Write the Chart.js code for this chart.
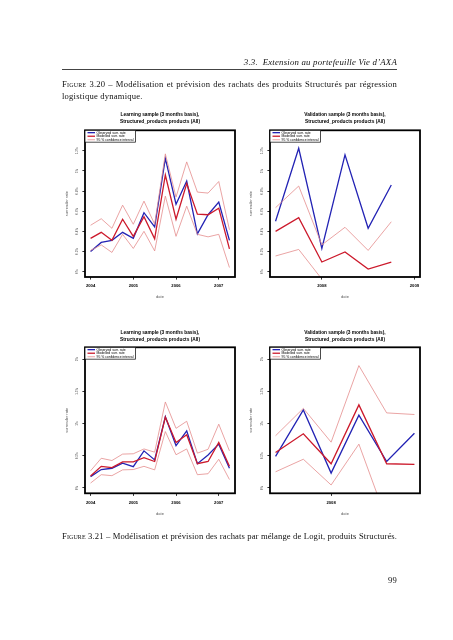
<!DOCTYPE html>
<html><head><meta charset="utf-8">
<script src="https://cdn.jsdelivr.net/npm/chart.js@4.4.1/dist/chart.umd.min.js"></script>
<style>
html,body{margin:0;padding:0;background:#fff;}
#page{position:relative;width:453px;height:640px;overflow:hidden;background:#fff;}
.serif{font-family:'Liberation Serif','DejaVu Serif',serif;color:#111;filter:grayscale(1);-webkit-font-smoothing:antialiased;}
.abs{position:absolute;white-space:nowrap;}
canvas{position:absolute;}
.sc{font-variant:small-caps;}
.just{text-align:justify;text-align-last:justify;}
.cap{font-size:8.6px;line-height:10px;letter-spacing:0.2px;}
</style></head><body>
<div id="page">
  <div class="abs serif" style="right:56px;top:57px;font-style:italic;font-size:8.8px;line-height:10px;letter-spacing:0.2px;">3.3.&nbsp; Extension au portefeuille Vie d’AXA</div>
  <div class="abs" style="left:62px;top:69px;width:335px;height:1px;background:#444;"></div>
  <div class="abs serif just cap" style="left:62px;top:79px;width:335px;"><span class="sc">Figure</span> 3.20 – Modélisation et prévision des rachats des produits Structurés par régression</div>
  <div class="abs serif cap" style="left:62px;top:90.5px;">logistique dynamique.</div>
  <canvas id="c1"></canvas>
  <canvas id="c2"></canvas>
  <canvas id="c3"></canvas>
  <canvas id="c4"></canvas>
  <div class="abs serif just cap" style="left:62px;top:530.5px;width:335px;letter-spacing:0.1px;"><span class="sc">Figure</span> 3.21 – Modélisation et prévision des rachats par mélange de Logit, produits Structurés.</div>
  <div class="abs serif cap" style="right:56px;top:574.5px;">99</div>
</div>
<script>
// ---------- categories (quarters, decimal years) ----------
const learnDates = [2004, 2004.25, 2004.5, 2004.75, 2005, 2005.25, 2005.5, 2005.75, 2006, 2006.25, 2006.5, 2006.75, 2007, 2007.25];
const validDates = [2007.5, 2007.75, 2008, 2008.25, 2008.5, 2008.75];

// ---------- Figure 3.20 : dynamic logistic regression (values in %) ----------
const f320LearnObserved = [0.20, 0.29, 0.31, 0.39, 0.33, 0.585, 0.445, 1.125, 0.67, 0.90, 0.375, 0.565, 0.69, 0.31];
const f320LearnModelled = [0.33, 0.39, 0.31, 0.52, 0.35, 0.545, 0.325, 0.96, 0.52, 0.875, 0.57, 0.565, 0.63, 0.225];
const f320LearnUpper    = [0.46, 0.525, 0.43, 0.66, 0.47, 0.70, 0.47, 1.17, 0.74, 1.09, 0.79, 0.78, 0.895, 0.415];
const f320LearnLower    = [0.21, 0.265, 0.19, 0.37, 0.23, 0.40, 0.205, 0.75, 0.35, 0.65, 0.37, 0.345, 0.37, 0.04];

const f320ValidObserved = [0.50, 1.225, 0.23, 1.16, 0.43, 0.86];
const f320ValidModelled = [0.40, 0.535, 0.095, 0.195, 0.025, 0.095];
const f320ValidUpper    = [0.635, 0.85, 0.265, 0.44, 0.21, 0.495];
const f320ValidLower    = [0.155, 0.22, -0.075, -0.06, -0.16, -0.30];

// ---------- Figure 3.21 : mixture of logits (values in %) ----------
const f321LearnObserved = [0.175, 0.285, 0.305, 0.385, 0.33, 0.575, 0.435, 1.105, 0.655, 0.885, 0.375, 0.51, 0.68, 0.305];
const f321LearnModelled = [0.185, 0.335, 0.315, 0.405, 0.405, 0.47, 0.41, 1.10, 0.705, 0.825, 0.375, 0.41, 0.705, 0.335];
const f321LearnUpper    = [0.265, 0.46, 0.425, 0.525, 0.53, 0.605, 0.555, 1.335, 0.925, 1.035, 0.54, 0.60, 0.99, 0.575];
const f321LearnLower    = [0.075, 0.205, 0.19, 0.28, 0.285, 0.335, 0.28, 0.875, 0.515, 0.605, 0.205, 0.22, 0.445, 0.13];

const f321ValidObserved = [0.49, 1.21, 0.23, 1.13, 0.41, 0.85];
const f321ValidModelled = [0.55, 0.84, 0.375, 1.29, 0.375, 0.365];
const f321ValidUpper    = [0.81, 1.235, 0.71, 1.90, 1.165, 1.14];
const f321ValidLower    = [0.25, 0.445, 0.045, 0.68, -0.50, -0.50];

// ---------- ticks & labels ----------
const topYTicks = [0, 0.2, 0.4, 0.6, 0.8, 1, 1.2];
const topYTickLabels = ['0%', '0.2%', '0.4%', '0.6%', '0.8%', '1%', '1.2%'];
const bottomYTicks = [0, 0.5, 1, 1.5, 2];
const bottomYTickLabels = ['0%', '0.5%', '1%', '1.5%', '2%'];
const learnXTicks = [2004, 2005, 2006, 2007];
const learnXTickLabels = ['2004', '2005', '2006', '2007'];
const validXTicks = [2008, 2009];
const validXTickLabels = ['2008', '2009'];

const learnTitle = ['Learning sample (3 months basis),', 'Structured_products products (All)'];
const validTitle = ['Validation sample (3 months basis),', 'Structured_products products (All)'];
const seriesLabels = ['Observed surr. rate', 'Modelled surr. rate', '95 % confidence interval'];
const yAxisTitle = 'surrender rate';
const xAxisTitle = 'date';

// ---------- styling ----------
const FAMILY = "'Liberation Sans', Arial, sans-serif";
Chart.defaults.font.family = FAMILY;
const BLUE = '#2323b4', RED = '#cc1a2c', CI = '#e58d8d';

const framePlugin = {
  id: 'frame',
  afterDatasetsDraw(chart) {
    const {ctx, chartArea: a} = chart;
    ctx.save();
    ctx.strokeStyle = '#000';
    ctx.lineWidth = 1.8;
    ctx.strokeRect(a.left, a.top, a.right - a.left, a.bottom - a.top);
    // inner legend box (R style, top-left)
    const items = chart.data.datasets.filter(d => !d.hideInLegend);
    const fs = 3.4, rowH = 3.55;
    ctx.font = `${fs}px ${FAMILY}`;
    const textX = a.left + 11.5;
    let wMax = 0;
    items.forEach(d => { wMax = Math.max(wMax, ctx.measureText(d.label).width); });
    const bw = textX - a.left + wMax + 2.2, bh = rowH * items.length + 1.2;
    ctx.fillStyle = '#fff';
    ctx.fillRect(a.left, a.top, bw, bh);
    ctx.lineWidth = 0.7;
    ctx.strokeRect(a.left, a.top, bw, bh);
    items.forEach((d, i) => {
      const y = a.top + 0.6 + rowH * (i + 0.5);
      ctx.strokeStyle = d.borderColor;
      ctx.lineWidth = d.borderWidth;
      ctx.beginPath(); ctx.moveTo(a.left + 2.5, y); ctx.lineTo(a.left + 10, y); ctx.stroke();
      ctx.fillStyle = '#000';
      ctx.textBaseline = 'middle';
      ctx.textAlign = 'left';
      ctx.fillText(d.label, textX, y);
    });
    ctx.restore();
  }
};

function measure(texts, font) {
  const c = document.createElement('canvas').getContext('2d');
  c.font = font;
  return Math.max(...texts.map(t => c.measureText(t).width));
}

function panel(id, g, dates, obs, mod, up, lo, yTicks, yLabels, xTicks, xLabels, title, ylim, xlim) {
  const cv = document.getElementById(id);
  cv.width = g.cw; cv.height = g.ch;
  cv.style.left = g.cx + 'px'; cv.style.top = g.cy + 'px';
  const l = g.L - g.cx, r = g.R - g.cx, t = g.T - g.cy, b = g.B - g.cy;

  const titleSize = 4.8, titleLH = 7;
  const tpt = (g.titleY - g.cy) - titleLH / 2;
  const tpb = t - tpt - 2 * titleLH;

  const ySize = 3, tl = 2.6;
  const widest = measure(yLabels, `${ySize}px ${FAMILY}`);
  const yPad = (l - tl - widest / 2) - (g.ytickX - g.cx);
  const yTitleSize = 4, yTitleLH = 4.8;
  const yTitlePad = (g.ylabX - g.cx) - yTitleLH / 2;

  const xSize = 4.2, xLH = 5;
  const xPad = (g.xtickY - g.cy) - b - tl - xLH / 2;
  const xTitlePad = g.ch - (g.xlabY - g.cy) - yTitleLH / 2;

  const pts = arr => dates.map((d, i) => ({x: d, y: arr[i]}));
  const ds = [
    {label: seriesLabels[0], data: pts(obs), borderColor: BLUE, borderWidth: 1.3, order: 3},
    {label: seriesLabels[1], data: pts(mod), borderColor: RED, borderWidth: 1.3, order: 2},
    {label: seriesLabels[2], data: pts(up), borderColor: CI, borderWidth: 0.8, order: 1},
    {label: seriesLabels[2], data: pts(lo), borderColor: CI, borderWidth: 0.8, order: 1, hideInLegend: true}
  ];

  new Chart(cv, {
    type: 'line',
    data: {datasets: ds},
    plugins: [framePlugin],
    options: {
      responsive: false, animation: false, devicePixelRatio: 1,
      layout: {padding: {left: 0, top: 0, bottom: 0, right: g.cw - r}},
      elements: {point: {radius: 0}, line: {tension: 0, fill: false}},
      plugins: {
        legend: {display: false},
        tooltip: {enabled: false},
        title: {
          display: true, text: title, fullSize: false, color: '#000',
          font: {size: titleSize, weight: 'bold', lineHeight: titleLH + 'px'},
          padding: {top: tpt, bottom: tpb}
        }
      },
      scales: {
        x: {
          type: 'linear', position: 'bottom', min: xlim[0], max: xlim[1],
          afterBuildTicks: s => { s.ticks = xTicks.filter(v => v >= xlim[0] && v <= xlim[1]).map(v => ({value: v})); },
          afterFit: s => { s.height = g.ch - b; },
          ticks: {
            callback: v => xLabels[xTicks.indexOf(v)],
            font: {size: xSize, weight: 'bold', lineHeight: xLH + 'px'},
            color: '#000', padding: xPad, maxRotation: 0, autoSkip: false
          },
          grid: {display: true, drawOnChartArea: false, drawTicks: true, tickLength: tl, tickColor: '#000', tickWidth: 0.8},
          border: {display: false},
          title: {display: true, text: xAxisTitle, color: '#555',
                  font: {size: yTitleSize, lineHeight: yTitleLH + 'px'}, padding: {top: 0, bottom: xTitlePad}}
        },
        y: {
          type: 'linear', position: 'left', min: ylim[0], max: ylim[1],
          afterBuildTicks: s => { s.ticks = yTicks.map(v => ({value: v})); },
          afterFit: s => { s.width = l; },
          ticks: {
            callback: v => yLabels[yTicks.indexOf(v)],
            font: {size: ySize}, color: '#444', padding: yPad,
            minRotation: 90, maxRotation: 90, crossAlign: 'center', autoSkip: false
          },
          grid: {display: true, drawOnChartArea: false, drawTicks: true, tickLength: tl, tickColor: '#000', tickWidth: 0.8},
          border: {display: false},
          title: {display: true, text: yAxisTitle, color: '#555',
                  font: {size: yTitleSize, lineHeight: yTitleLH + 'px'}, padding: {top: yTitlePad, bottom: 0}}
        }
      }
    }
  });
}

const gTL = {cx: 40, cy: 100, cw: 205, ch: 210, L: 85, R: 235, T: 130.3, B: 277, titleY: 114.8, ylabX: 66.5, ytickX: 77.3, xtickY: 285.7, xlabY: 297.3};
const gTR = {cx: 240, cy: 100, cw: 200, ch: 210, L: 270, R: 420, T: 130.3, B: 277, titleY: 114.8, ylabX: 251.3, ytickX: 262.3, xtickY: 285.7, xlabY: 297.3};
const gBL = {cx: 40, cy: 315, cw: 205, ch: 210, L: 85, R: 235, T: 347.3, B: 493.3, titleY: 332.4, ylabX: 66.5, ytickX: 77.3, xtickY: 503, xlabY: 514.3};
const gBR = {cx: 240, cy: 315, cw: 200, ch: 210, L: 270, R: 420, T: 347.3, B: 493.3, titleY: 332.4, ylabX: 251.3, ytickX: 262.3, xtickY: 503, xlabY: 514.3};

const topYlim = [-0.054, 1.404];
const bottomYlim = [-0.084, 2.184];

panel('c1', gTL, learnDates, f320LearnObserved, f320LearnModelled, f320LearnUpper, f320LearnLower,
      topYTicks, topYTickLabels, learnXTicks, learnXTickLabels, learnTitle, topYlim, [2003.87, 2007.38]);
panel('c2', gTR, validDates, f320ValidObserved, f320ValidModelled, f320ValidUpper, f320ValidLower,
      topYTicks, topYTickLabels, validXTicks, validXTickLabels, validTitle, topYlim, [2007.44, 2009.06]);
panel('c3', gBL, learnDates, f321LearnObserved, f321LearnModelled, f321LearnUpper, f321LearnLower,
      bottomYTicks, bottomYTickLabels, learnXTicks, learnXTickLabels, learnTitle, bottomYlim, [2003.87, 2007.38]);
panel('c4', gBR, validDates, f321ValidObserved, f321ValidModelled, f321ValidUpper, f321ValidLower,
      bottomYTicks, bottomYTickLabels, validXTicks, validXTickLabels, validTitle, bottomYlim, [2007.45, 2008.80]);
</script>
</body></html>
